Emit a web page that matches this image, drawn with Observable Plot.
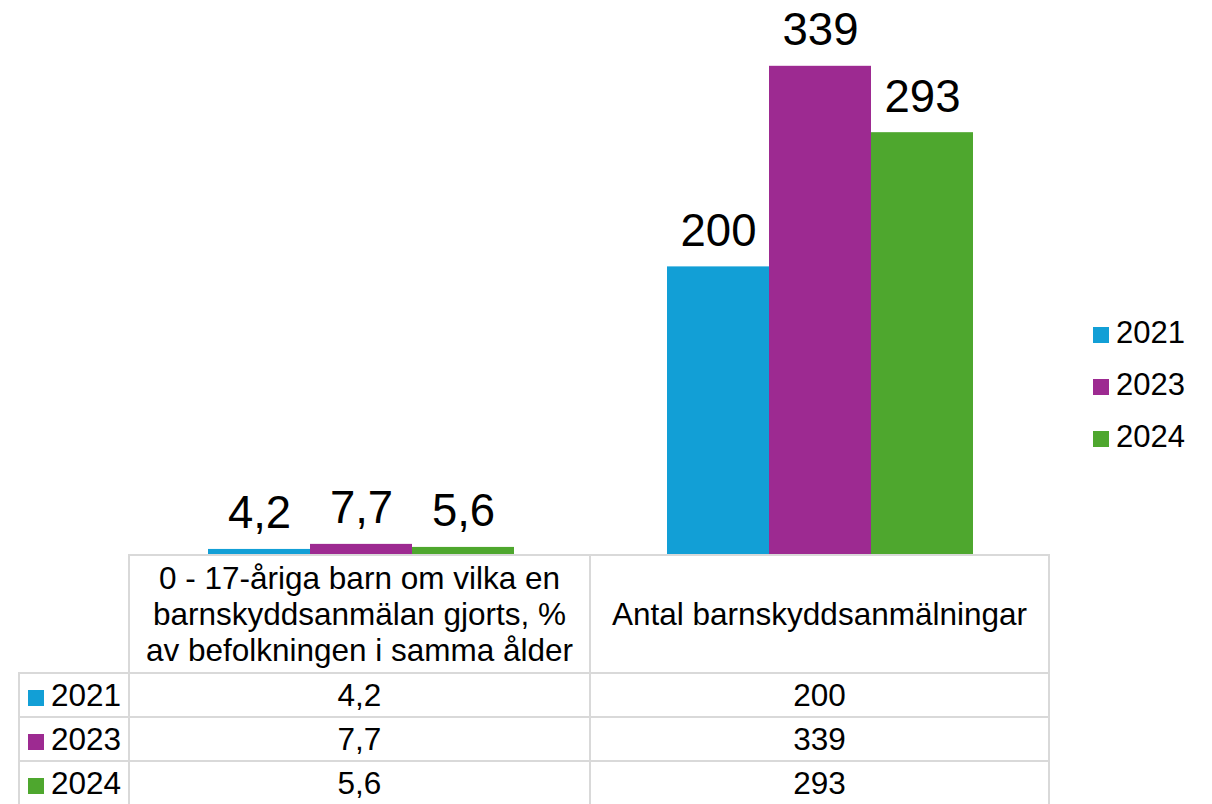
<!DOCTYPE html>
<html><head><meta charset="utf-8">
<script src="https://cdn.jsdelivr.net/npm/d3@7"></script>
<script src="https://cdn.jsdelivr.net/npm/@observablehq/plot@0.6"></script>
<style>
body{margin:0;background:#fff;font-family:"Liberation Sans",Arial,sans-serif;color:#000;}
#wrap{position:relative;width:1212px;height:804px;overflow:hidden;}
#chart{position:absolute;left:0;top:0;}
#tbl{position:absolute;left:18px;top:554px;border-collapse:collapse;table-layout:fixed;font-size:31.5px;}
#tbl td{border:2px solid #d9d9d9;text-align:center;padding:0;white-space:nowrap;}
#tbl td.corner{border-top:none;border-left:none;}
#tbl tr.head td{height:116px;line-height:36px;}
#tbl tr.row td{height:42px;line-height:42px;}
#tbl td.lab{text-align:left;padding-left:8px;}
.sq{display:inline-block;width:16px;height:16px;margin-right:7px;vertical-align:0px;}
#legend{position:absolute;left:1093px;top:0;font-size:31px;}
#legend div{position:absolute;left:0;height:34px;line-height:34px;white-space:nowrap;}
</style>
</head><body>
<div id="wrap">
  <div id="chart"></div>
  <table id="tbl"></table>
  <div id="legend"></div>
</div>
<script>
const categories = ["Andel barn (%)", "Antal barnskyddsanmälningar"];
const headerLines = [
  ["0 - 17-åriga barn om vilka en", "barnskyddsanmälan gjorts, %", "av befolkningen i samma ålder"],
  ["Antal barnskyddsanmälningar"]
];
const years = ["2021", "2023", "2024"];
const values2021 = [4.2, 200];
const values2023 = [7.7, 339];
const values2024 = [5.6, 293];
const colors = ["#129fd6", "#9d2a91", "#4ea72e"];

const seriesValues = [values2021, values2023, values2024];
const data = [];
years.forEach((y, i) => categories.forEach((c, j) => data.push({category: c, year: y, value: seriesValues[i][j]})));
const fmt = v => String(v).replace(".", ",");

const chart = Plot.plot({
  width: 1212,
  height: 555,
  marginLeft: 130,
  marginRight: 163,
  marginTop: 0,
  marginBottom: 0,
  style: {fontFamily: "Liberation Sans, Arial, sans-serif", background: "white"},
  fx: {domain: categories, padding: 0, axis: null},
  x: {domain: years, paddingInner: 0, paddingOuter: 0.75, axis: null},
  y: {domain: [0, 384.6], axis: null},
  color: {domain: years, range: colors},
  marks: [
    Plot.barY(data, {fx: "category", x: "year", y: "value", fill: "year"}),
    Plot.text(data, {fx: "category", x: "year", y: "value", text: d => fmt(d.value),
      lineAnchor: "bottom", dy: -21, fontSize: 45.5, fill: "#000"})
  ]
});
document.getElementById("chart").appendChild(chart);

// data table below the chart
const tbl = document.getElementById("tbl");
const cg = document.createElement("colgroup");
[110, 461, 459].forEach(w => { const c = document.createElement("col"); c.style.width = w + "px"; cg.appendChild(c); });
tbl.appendChild(cg);
const head = document.createElement("tr"); head.className = "head";
const corner = document.createElement("td"); corner.className = "corner"; head.appendChild(corner);
headerLines.forEach(lines => { const td = document.createElement("td"); td.innerHTML = lines.join("<br>"); head.appendChild(td); });
tbl.appendChild(head);
years.forEach((y, i) => {
  const tr = document.createElement("tr"); tr.className = "row";
  const lab = document.createElement("td"); lab.className = "lab";
  lab.innerHTML = `<span class="sq" style="background:${colors[i]}"></span>${y}`;
  tr.appendChild(lab);
  seriesValues[i].forEach(v => { const td = document.createElement("td"); td.textContent = fmt(v); tr.appendChild(td); });
  tbl.appendChild(tr);
});

// legend on the right
const legend = document.getElementById("legend");
const legendCenters = [333, 385, 437];
years.forEach((y, i) => {
  const d = document.createElement("div");
  d.style.top = (legendCenters[i] - 17) + "px";
  d.innerHTML = `<span class="sq" style="background:${colors[i]}"></span>${y}`;
  legend.appendChild(d);
});
</script>
</body></html>
